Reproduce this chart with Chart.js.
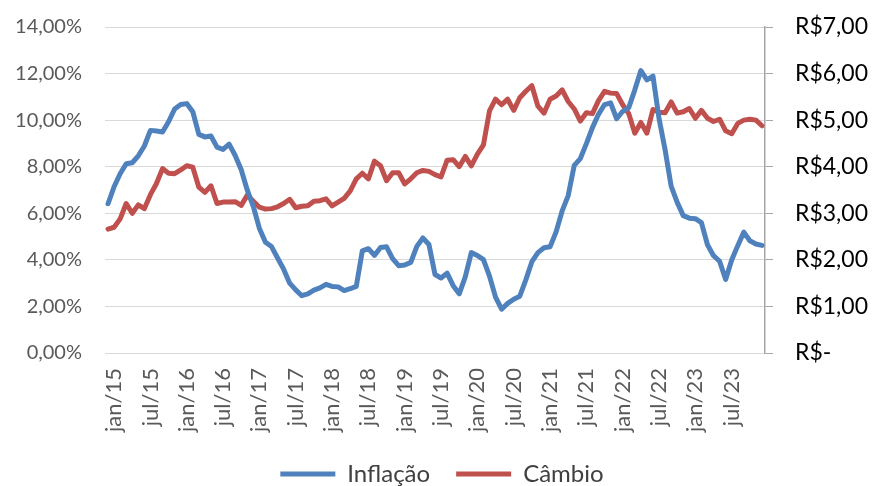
<!DOCTYPE html>
<html lang="pt-BR">
<head>
<meta charset="utf-8">
<title>Inflação x Câmbio</title>
<script src="https://cdn.jsdelivr.net/npm/chart.js@4.4.1/dist/chart.umd.min.js"></script>
<style>
  html, body { margin: 0; padding: 0; background: #fff; }
  #chart { display: block; }
</style>
</head>
<body>
<canvas id="chart" width="872" height="486"></canvas>
<script>
// meses (dez/14 a dez/23)
const monthNames = ['jan', 'fev', 'mar', 'abr', 'mai', 'jun', 'jul', 'ago', 'set', 'out', 'nov', 'dez'];
const years = [14, 15, 16, 17, 18, 19, 20, 21, 22, 23];

// IPCA acumulado 12 meses (%)
const inflacao = [
  6.41,
  7.14, 7.70, 8.13, 8.17, 8.47, 8.89, 9.56, 9.53, 9.49, 9.93, 10.48, 10.67,
  10.71, 10.36, 9.39, 9.28, 9.32, 8.84, 8.74, 8.97, 8.48, 7.87, 6.99, 6.29,
  5.35, 4.76, 4.57, 4.08, 3.60, 3.00, 2.71, 2.46, 2.54, 2.70, 2.80, 2.95,
  2.86, 2.84, 2.68, 2.76, 2.86, 4.39, 4.48, 4.19, 4.53, 4.56, 4.05, 3.75,
  3.78, 3.89, 4.58, 4.94, 4.66, 3.37, 3.22, 3.43, 2.89, 2.54, 3.27, 4.31,
  4.19, 4.01, 3.30, 2.40, 1.88, 2.13, 2.31, 2.44, 3.14, 3.92, 4.31, 4.52,
  4.56, 5.20, 6.10, 6.76, 8.06, 8.35, 8.99, 9.68, 10.25, 10.67, 10.74, 10.06,
  10.38, 10.54, 11.30, 12.13, 11.73, 11.89, 10.07, 8.73, 7.17, 6.47, 5.90, 5.79,
  5.77, 5.60, 4.65, 4.18, 3.94, 3.16, 3.99, 4.61, 5.19, 4.82, 4.68, 4.62
];

// dólar fim de mês (R$)
const cambio = [
  2.66,
  2.70, 2.88, 3.21, 3.00, 3.18, 3.10, 3.40, 3.64, 3.96, 3.86, 3.85, 3.93,
  4.02, 3.99, 3.56, 3.45, 3.59, 3.21, 3.24, 3.24, 3.25, 3.17, 3.39, 3.26,
  3.13, 3.09, 3.10, 3.14, 3.21, 3.30, 3.12, 3.15, 3.16, 3.26, 3.27, 3.31,
  3.16, 3.24, 3.32, 3.48, 3.74, 3.86, 3.74, 4.12, 4.02, 3.70, 3.87, 3.87,
  3.63, 3.74, 3.87, 3.92, 3.90, 3.83, 3.78, 4.14, 4.15, 4.00, 4.22, 4.02,
  4.27, 4.47, 5.20, 5.45, 5.33, 5.45, 5.21, 5.48, 5.62, 5.74, 5.30, 5.15,
  5.45, 5.52, 5.65, 5.40, 5.24, 4.98, 5.16, 5.14, 5.42, 5.62, 5.58, 5.57,
  5.33, 5.14, 4.72, 4.95, 4.72, 5.23, 5.17, 5.16, 5.39, 5.15, 5.18, 5.25,
  5.04, 5.21, 5.04, 4.97, 5.02, 4.77, 4.71, 4.93, 5.00, 5.02, 5.00, 4.88
];

const labels = ['dez/14'];
years.slice(1).forEach(y => monthNames.forEach(m => labels.push(m + '/' + y)));

const FONT = 'Lato, "Open Sans", sans-serif';

new Chart(document.getElementById('chart'), {
  type: 'line',
  data: {
    labels: labels,
    datasets: [
      {
        label: 'Inflação',
        data: inflacao,
        yAxisID: 'y',
        borderColor: '#4F81BD',
        backgroundColor: '#4F81BD',
        borderWidth: 5,
        pointRadius: 0,
        tension: 0,
        borderJoinStyle: 'round',
        borderCapStyle: 'round'
      },
      {
        label: 'Câmbio',
        data: cambio,
        yAxisID: 'y1',
        borderColor: '#C0504D',
        backgroundColor: '#C0504D',
        borderWidth: 5,
        pointRadius: 0,
        tension: 0,
        borderJoinStyle: 'round',
        borderCapStyle: 'round'
      }
    ]
  },
  options: {
    responsive: false,
    animation: false,
    layout: { padding: { top: 27, left: 12, right: 0, bottom: -10 } },
    plugins: {
      tooltip: { enabled: false },
      legend: {
        position: 'bottom',
        labels: {
          color: '#404040',
          font: { family: FONT, size: 24 },
          boxWidth: 55,
          boxHeight: 5,
          padding: 26,
          generateLabels: chart =>
            Chart.defaults.plugins.legend.labels.generateLabels(chart).map(l => ({ ...l, lineWidth: 0, fillStyle: l.strokeStyle }))
        }
      }
    },
    scales: {
      x: {
        offset: true,
        grid: { display: false, drawTicks: false },
        border: { display: false },
        ticks: {
          autoSkip: false,
          minRotation: 90,
          maxRotation: 90,
          padding: 15,
          color: '#595959',
          font: { family: FONT, size: 22 },
          callback: (v, i) => (i % 6 === 1 ? labels[i] : '')
        },
        afterFit: s => { s.height = 83; }
      },
      y: {
        position: 'left',
        min: 0,
        max: 14,
        grid: { color: '#D9D9D9', lineWidth: 1, drawTicks: false },
        border: { display: false },
        ticks: {
          stepSize: 2,
          padding: 23,
          color: '#595959',
          font: { family: FONT, size: 20 },
          callback: v => v.toFixed(2).replace('.', ',') + '%'
        },
        afterFit: s => { s.width = 93; s.paddingTop = 0; s.paddingBottom = 0; }
      },
      y1: {
        position: 'right',
        min: 0,
        max: 7,
        grid: { drawOnChartArea: false, color: '#A6A6A6', tickLength: 8 },
        border: { display: true, color: '#A6A6A6', width: 1.5 },
        ticks: {
          stepSize: 1,
          padding: 22,
          color: '#000000',
          font: { family: FONT, size: 23 },
          callback: v => (v === 0 ? 'R$-' : 'R$' + v.toFixed(2).replace('.', ','))
        },
        afterFit: s => { s.width = 107; s.paddingTop = 0; s.paddingBottom = 0; }
      }
    }
  }
});
</script>
</body>
</html>
